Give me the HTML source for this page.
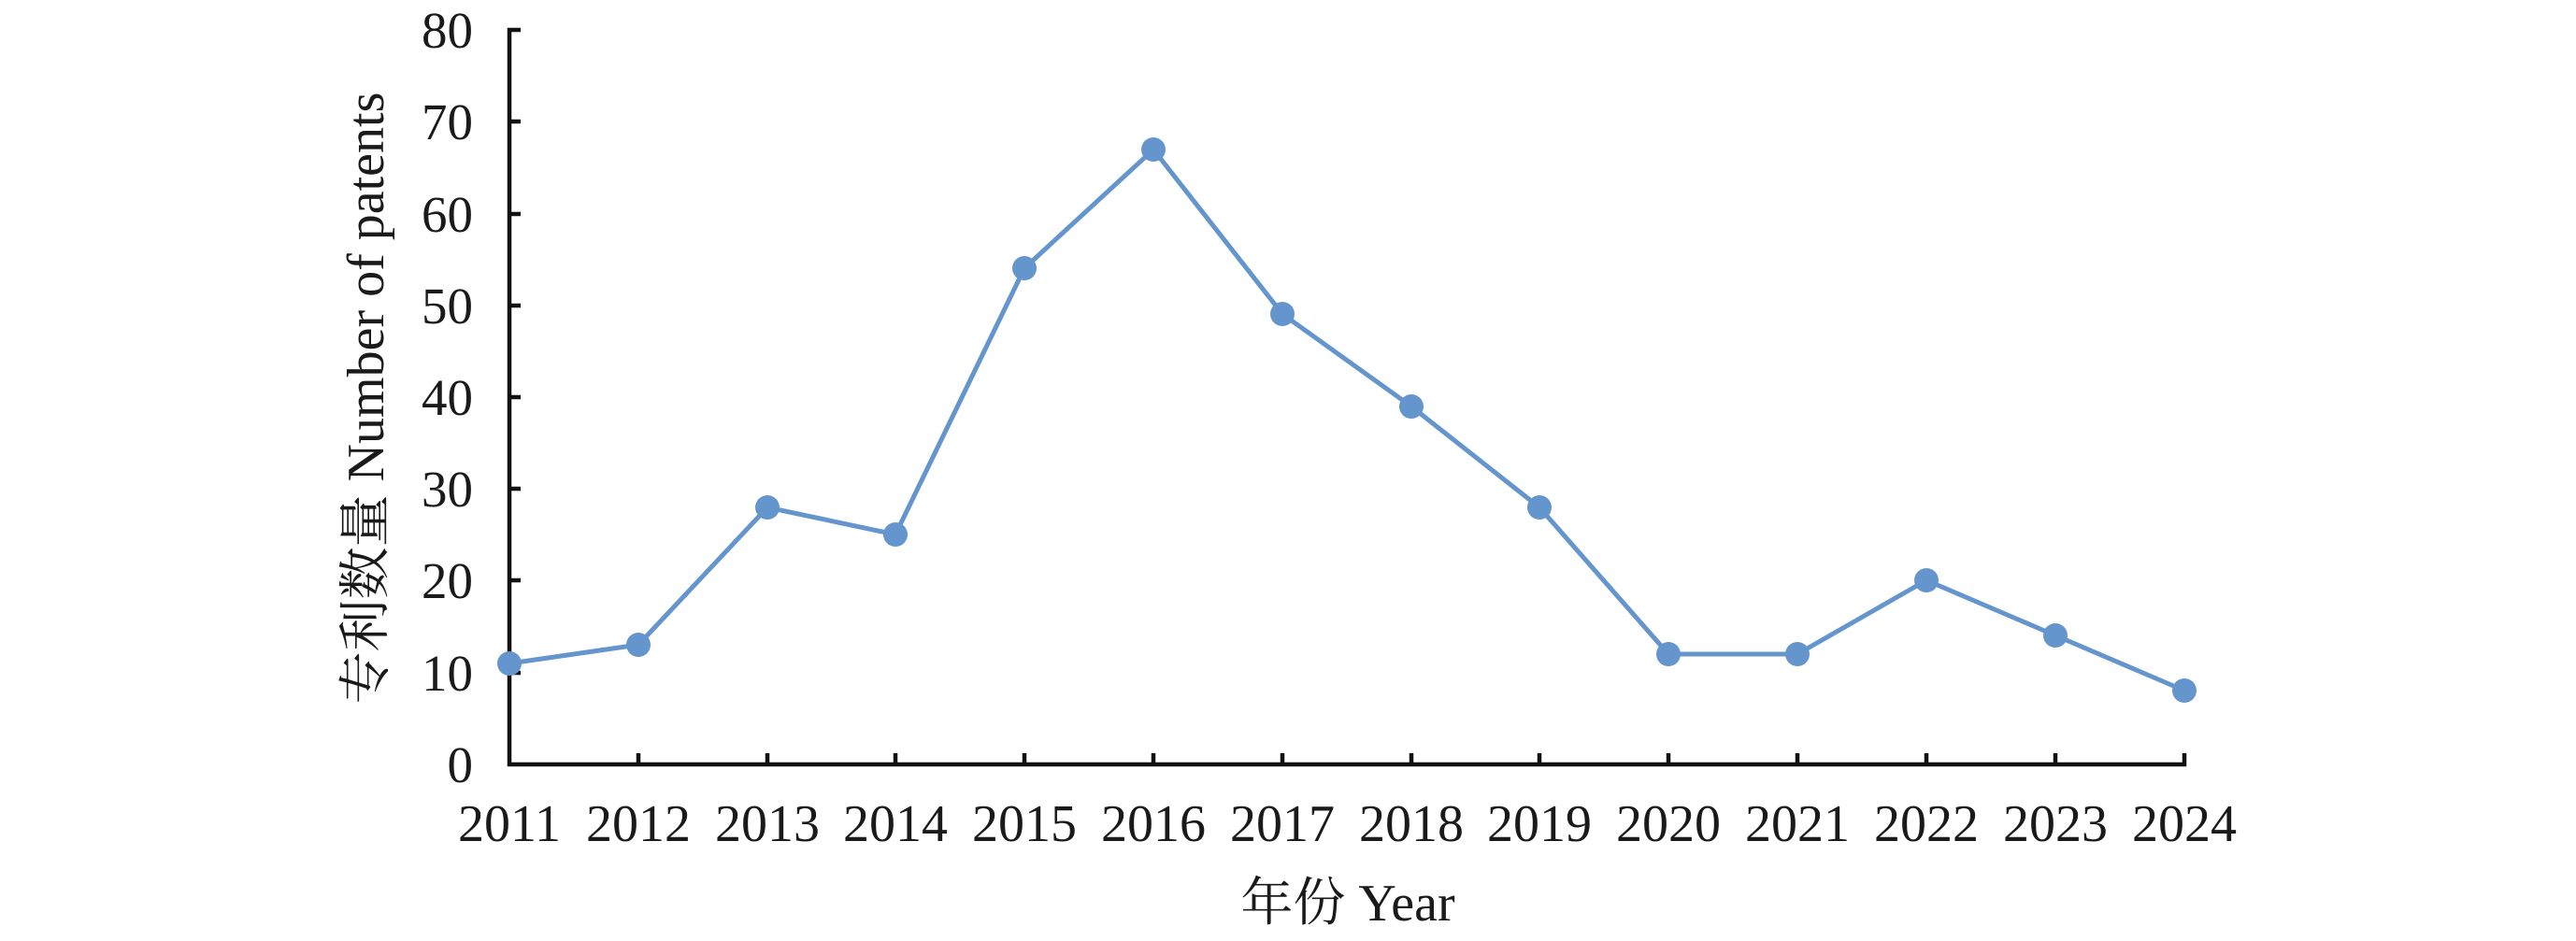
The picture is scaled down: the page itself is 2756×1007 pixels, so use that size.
<!DOCTYPE html>
<html><head><meta charset="utf-8"><style>html,body{margin:0;padding:0;background:#fff}</style></head>
<body>
<svg width="2756" height="1002" viewBox="0 0 2756 1002" xmlns="http://www.w3.org/2000/svg" font-family="'Liberation Serif','Noto Serif CJK SC',serif" fill="#1a1a1a">
<g stroke="#111" stroke-width="4.5" fill="none">
<path d="M557,32 H545 V818 H2337 V806"/>
<path d="M545,130 h12 M545,229 h12 M545,327 h12 M545,425 h12 M545,523 h12 M545,621 h12 M545,720 h12"/>
<path d="M683,818 v-12 M821,818 v-12 M958,818 v-12 M1096,818 v-12 M1234,818 v-12 M1372,818 v-12 M1510,818 v-12 M1647,818 v-12 M1785,818 v-12 M1923,818 v-12 M2061,818 v-12 M2199,818 v-12"/>
</g>
<g font-size="55" text-anchor="end">
<text x="506" y="51">80</text><text x="506" y="149">70</text><text x="506" y="248">60</text><text x="506" y="346">50</text><text x="506" y="444">40</text><text x="506" y="542">30</text><text x="506" y="640">20</text><text x="506" y="739">10</text><text x="506" y="837">0</text>
</g>
<g font-size="56" text-anchor="middle">
<text x="545" y="900">2011</text><text x="683" y="900">2012</text><text x="821" y="900">2013</text><text x="958" y="900">2014</text><text x="1096" y="900">2015</text><text x="1234" y="900">2016</text><text x="1372" y="900">2017</text><text x="1510" y="900">2018</text><text x="1647" y="900">2019</text><text x="1785" y="900">2020</text><text x="1923" y="900">2021</text><text x="2061" y="900">2022</text><text x="2199" y="900">2023</text><text x="2337" y="900">2024</text>
<text x="1442" y="985">年份 Year</text>
<text transform="translate(410,426) rotate(-90)">专利数量 Number of patents</text>
</g>
<polyline fill="none" stroke="#6495cd" stroke-width="5" points="545,710 683,690 821,543 958,572 1096,287 1234,160 1372,336 1510,435 1647,543 1785,700 1923,700 2061,621 2199,680 2337,739"/>
<g fill="#6495cd">
<circle cx="545" cy="710" r="13"/><circle cx="683" cy="690" r="13"/><circle cx="821" cy="543" r="13"/><circle cx="958" cy="572" r="13"/><circle cx="1096" cy="287" r="13"/><circle cx="1234" cy="160" r="13"/><circle cx="1372" cy="336" r="13"/><circle cx="1510" cy="435" r="13"/><circle cx="1647" cy="543" r="13"/><circle cx="1785" cy="700" r="13"/><circle cx="1923" cy="700" r="13"/><circle cx="2061" cy="621" r="13"/><circle cx="2199" cy="680" r="13"/><circle cx="2337" cy="739" r="13"/>
</g>
</svg>
</body></html>
